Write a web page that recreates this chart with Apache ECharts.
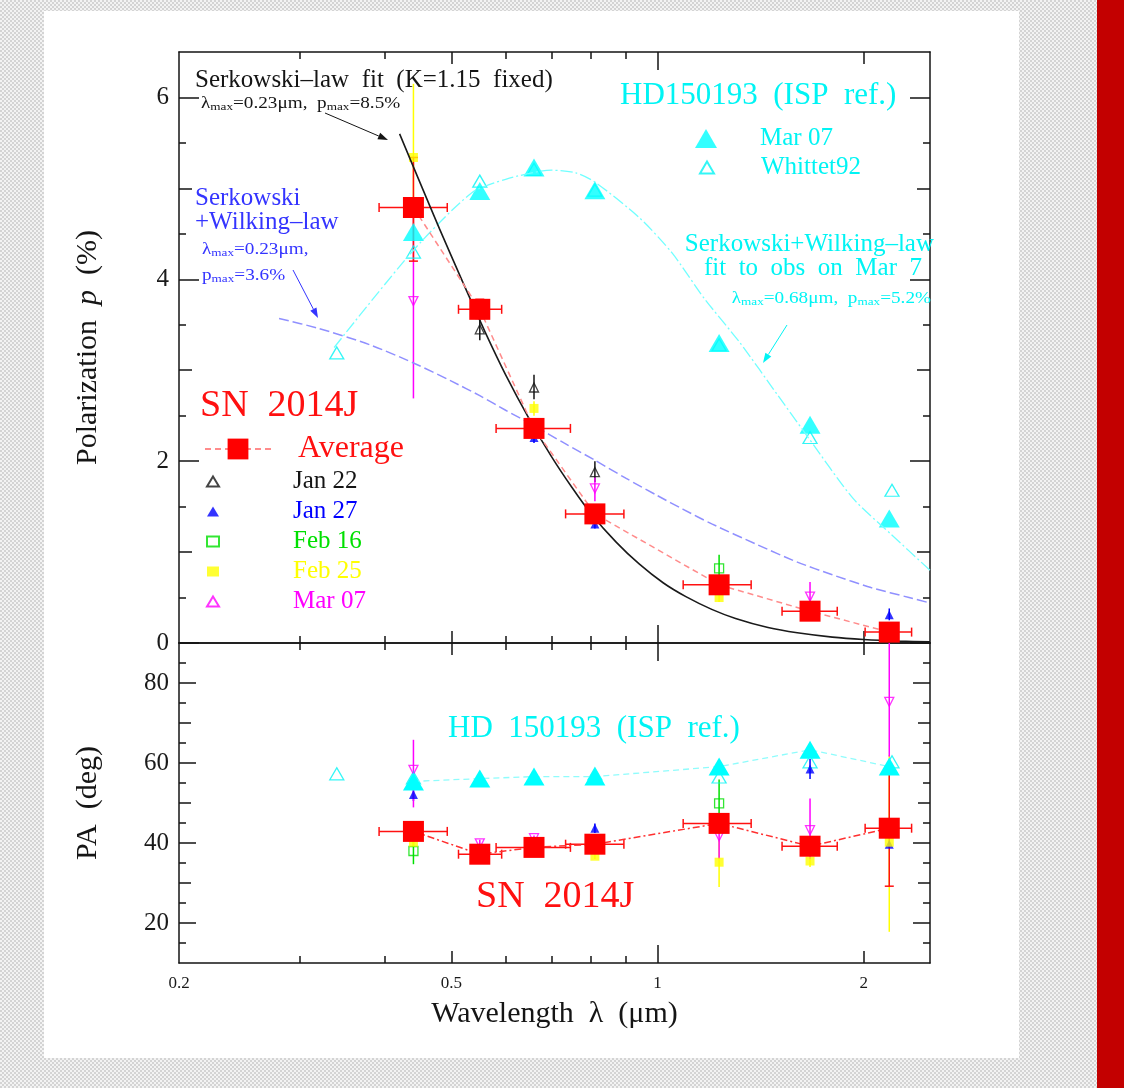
<!DOCTYPE html>
<html>
<head>
<meta charset="utf-8">
<title>SN 2014J polarization</title>
<script src="https://cdn.jsdelivr.net/npm/echarts@6/dist/echarts.min.js"></script>
<style>
html, body { margin: 0; padding: 0; }
body {
    width: 1124px; height: 1088px;
    background: repeating-conic-gradient(#d4d4d4 0 25%, #f3f3f3 0 50%) 0 0 / 4px 4px;
}
#chart { width: 1124px; height: 1088px; }
</style>
</head>
<body>
<div id="chart"></div>
<script>
// ---- data ----
// band centres (um) B V R I J H K and the band widths used as x error bars
var bandWave   = [0.44, 0.55, 0.66, 0.81, 1.23, 1.67, 2.18];
var bandWaveLo = [0.392, 0.512, 0.581, 0.734, 1.09, 1.52, 2.01];
var bandWaveHi = [0.493, 0.592, 0.746, 0.893, 1.37, 1.83, 2.35];

// SN 2014J, average of all epochs
var avgP    = [4.79, 3.67, 2.36, 1.42, 0.64, 0.35, 0.12];
var avgPLo  = [4.20, 3.57, 2.30, 1.36, 0.58, 0.30, 0.07];
var avgPHi  = [5.34, 3.78, 2.42, 1.48, 0.70, 0.40, 0.17];
var avgPA   = [42.9, 37.2, 38.9, 39.7, 44.9, 39.2, 43.7];
var avgPALo = [41.5, 36.0, 37.9, 38.7, 43.5, 38.0, 29.2];
var avgPAHi = [44.3, 38.4, 39.9, 40.7, 46.3, 40.4, 59.0];

// single epochs, polarization (%)
var jan22P   = [null, 3.45, 2.81, 1.88, null, null, null];
var jan22PLo = [null, 3.33, 2.68, 1.77, null, null, null];
var jan22PHi = [null, 3.57, 2.95, 2.00, null, null, null];
var jan27P   = [null, null, 2.26, 1.31, null, null, 0.31];
var jan27PLo = [null, null, 2.20, 1.26, null, null, 0.25];
var jan27PHi = [null, null, 2.32, 1.36, null, null, 0.38];
var feb16P   = [null, null, null, null, 0.82, null, null];
var feb16PLo = [null, null, null, null, 0.72, null, null];
var feb16PHi = [null, null, null, null, 0.97, null, null];
var feb25P   = [5.34, null, 2.58, null, 0.50, null, null];
var feb25PLo = [4.60, null, 2.50, null, 0.45, null, null];
var feb25PHi = [6.15, null, 2.66, null, 0.56, null, null];
var mar07P   = [3.76, null, null, 1.70, null, 0.51, null];
var mar07PLo = [2.69, null, null, 1.56, null, 0.38, null];
var mar07PHi = [4.85, null, null, 1.82, null, 0.67, null];

// single epochs, position angle (deg)
var jan22PA   = [null, null, null, null, null, null, null];
var jan22PALo = [null, null, null, null, null, null, null];
var jan22PAHi = [null, null, null, null, null, null, null];
var jan27PA   = [52.1, null, null, 43.7, null, 58.5, 39.7];
var jan27PALo = [50.5, null, null, 42.5, null, 56.0, 39.0];
var jan27PAHi = [53.7, null, null, 44.9, null, 61.0, 40.4];
var feb16PA   = [38.0, null, null, null, 49.9, null, null];
var feb16PALo = [34.7, null, null, null, 44.5, null, null];
var feb16PAHi = [41.0, null, null, null, 55.9, null, null];
var feb25PA   = [40.2, null, null, 36.7, 35.2, 35.5, 40.2];
var feb25PALo = [39.0, null, null, 36.0, 29.0, 34.0, 17.8];
var feb25PAHi = [41.4, null, null, 37.4, 41.0, 37.0, 62.0];
var mar07PA   = [58.3, 39.9, 41.2, null, 41.7, 43.2, 75.3];
var mar07PALo = [48.9, 39.0, 40.5, null, 36.0, 36.0, 61.6];
var mar07PAHi = [65.8, 40.8, 41.9, null, 45.0, 51.1, 95.0];

// HD 150193 (ISP reference star)
var hdP  = [4.52, 4.97, 5.23, 4.98, 3.30, 2.40, 1.37];
var hdPA = [55.4, 56.1, 56.6, 56.6, 59.1, 63.3, 59.1];
var whittetWave = [0.34, 0.44, 0.55, 0.66, 0.81, 1.23, 1.67, 2.20];
var whittetP    = [3.19, 4.30, 5.08, 5.21, 4.98, 3.28, 2.26, 1.68];
var whittetPA   = [57.3, 56.3, null, null, 57.3, 56.5, 60.3, 60.3];

// fitted curves, sampled along the drawn lines
var serkFitWave = [0.42, 0.45, 0.48, 0.52, 0.56, 0.6, 0.65, 0.7, 0.75, 0.8, 0.87, 0.94, 1.02, 1.1,
                   1.2, 1.3, 1.45, 1.6, 1.8, 2.0, 2.25, 2.5];
var serkFitP    = [5.60, 5.06, 4.56, 3.96, 3.42, 2.95, 2.46, 2.05, 1.71, 1.42, 1.11, 0.87, 0.66, 0.51,
                   0.37, 0.27, 0.17, 0.112, 0.065, 0.039, 0.021, 0.012];
var swFitWave = [0.28, 0.32, 0.38, 0.44, 0.5, 0.55, 0.6, 0.66, 0.73, 0.81, 0.9, 1.0, 1.09, 1.2,
                 1.4, 1.6, 1.8, 2.05, 2.33, 2.5];
var swFitP    = [3.57, 3.46, 3.28, 3.08, 2.88, 2.72, 2.56, 2.39, 2.20, 2.01, 1.81, 1.62, 1.47, 1.31,
                 1.08, 0.89, 0.75, 0.61, 0.50, 0.44];
var hdFitWave = [0.337, 0.44, 0.535, 0.6, 0.7, 0.76, 0.81, 0.94, 1.05, 1.17, 1.32, 1.5, 1.66, 1.93, 2.19, 2.5];
var hdFitP    = [3.25, 4.32, 4.95, 5.10, 5.20, 5.17, 5.07, 4.68, 4.29, 3.79, 3.30, 2.72, 2.26, 1.59, 1.20, 0.80];

// axis ticks and labels
var xTickLevels  = [[1], [0.5, 2], [0.3, 0.4, 0.6, 0.7, 0.8, 0.9]];
var xTickLabels  = [0.2, 0.5, 1, 2];
var pTickLevels  = [[0, 2, 4, 6], [1, 3, 5], [0.5, 1.5, 2.5, 3.5, 4.5, 5.5]];
var pTickLabels  = [0, 2, 4, 6];
var paTickLevels = [[20, 40, 60, 80], [30, 50, 70], [15, 25, 35, 45, 55, 65, 75, 85]];
var paTickLabels = [20, 40, 60, 80];

var epochNames = ['Jan 22', 'Jan 27', 'Feb 16', 'Feb 25', 'Mar 07'];

// ---- styles ----
var SERIF = '"Liberation Serif", "DejaVu Serif", serif';
var INK = '#151515';
var CYAN = '#00f4f4';
var RED = '#ff1010';
var BLUE = '#3434ff';
var epochColors  = ['#151515', '#0000ff', '#00e000', '#ffff00', '#ff00ff'];
var epochSymbols = ['triangle', 'triangle', 'rect', 'rect', 'triangle'];
var epochHollow  = [true, false, true, false, true];
var epochRotate  = [0, 0, 0, 0, 180];

var epochP   = [jan22P, jan27P, feb16P, feb25P, mar07P];
var epochPLo = [jan22PLo, jan27PLo, feb16PLo, feb25PLo, mar07PLo];
var epochPHi = [jan22PHi, jan27PHi, feb16PHi, feb25PHi, mar07PHi];
var epochPA   = [jan22PA, jan27PA, feb16PA, feb25PA, mar07PA];
var epochPALo = [jan22PALo, jan27PALo, feb16PALo, feb25PALo, mar07PALo];
var epochPAHi = [jan22PAHi, jan27PAHi, feb16PAHi, feb25PAHi, mar07PAHi];

// two panels, each built from three stacked grids so the ticks get three lengths
var panels = [
    {top: 52, height: 591, min: 0, max: 6.5, ticks: pTickLevels, lens: [20, 13, 7], labels: pTickLabels,
     name: 'Polarization  {i|p}  (%)'},
    {top: 643, height: 320, min: 10, max: 90, ticks: paTickLevels, lens: [17, 12, 7], labels: paTickLabels,
     name: 'PA  (deg)'}
];
var xTickLens = [18, 12, 7];

var grids = [], xAxes = [], yAxes = [];
panels.forEach(function (pn, p) {
    for (var lev = 0; lev < 3; lev++) {
        var g = grids.length;
        grids.push({left: 179, width: 751, top: pn.top, height: pn.height});
        ['bottom', 'top'].forEach(function (pos) {
            var labelled = lev === 0 && pos === 'bottom' && p === 1;
            xAxes.push({
                type: 'log', logBase: 10, gridIndex: g, position: pos, min: 0.2, max: 2.5,
                axisLine: {show: lev === 0, onZero: false, lineStyle: {color: INK, width: 1.5}},
                axisTick: {show: true, inside: true, length: xTickLens[lev], customValues: xTickLevels[lev],
                           lineStyle: {color: INK, width: 1.5}},
                axisLabel: {show: labelled, customValues: xTickLabels, margin: 12,
                            fontFamily: SERIF, fontSize: 17, color: '#1a1a1a',
                            formatter: function (v) { return String(Math.round(v * 10) / 10); }},
                splitLine: {show: false},
                name: labelled ? 'Wavelength  λ  (μm)' : '',
                nameLocation: 'middle', nameGap: 36,
                nameTextStyle: {fontFamily: SERIF, fontSize: 30, color: INK}
            });
        });
        ['left', 'right'].forEach(function (pos) {
            var labelled = lev === 0 && pos === 'left';
            yAxes.push({
                type: 'value', gridIndex: g, position: pos, min: pn.min, max: pn.max,
                axisLine: {show: lev === 0, onZero: false, lineStyle: {color: INK, width: 1.5}},
                axisTick: {show: true, inside: true, length: pn.lens[lev], customValues: pn.ticks[lev],
                           lineStyle: {color: INK, width: 1.5}},
                axisLabel: {show: labelled, customValues: pn.labels, margin: 10,
                            fontFamily: SERIF, fontSize: 25, color: '#1a1a1a'},
                splitLine: {show: false},
                name: labelled ? pn.name : '',
                nameLocation: 'middle', nameGap: 76, nameRotate: 90,
                nameTextStyle: {fontFamily: SERIF, fontSize: 30, color: INK,
                                rich: {i: {fontFamily: SERIF, fontSize: 30, fontStyle: 'italic', color: INK}}}
            });
        });
    }
});

var TOP = [0, 0];   // xAxisIndex, yAxisIndex for the polarization panel
var BOT = [6, 6];   // same for the PA panel

function pairs(xs, ys) {
    var out = [];
    xs.forEach(function (x, i) { if (ys[i] != null) out.push([x, ys[i]]); });
    return out;
}

function curve(name, axes, xs, ys, color, width, dash) {
    return {
        type: 'line', name: name, xAxisIndex: axes[0], yAxisIndex: axes[1],
        data: pairs(xs, ys), smooth: 0.25, symbol: 'none', silent: true,
        lineStyle: {color: color, width: width, type: dash || 'solid'}
    };
}

function markers(name, axes, xs, ys, symbol, size, color, hollow, rotate) {
    return {
        type: 'scatter', name: name, xAxisIndex: axes[0], yAxisIndex: axes[1],
        data: pairs(xs, ys), symbol: symbol, symbolSize: size, symbolRotate: rotate || 0, silent: true,
        itemStyle: hollow ? {color: 'rgba(255,255,255,0)', borderColor: color, borderWidth: 1.3}
                          : {color: color, borderWidth: 0}
    };
}

function vBars(axes, xs, lo, hi, color, cap) {
    var data = [];
    xs.forEach(function (x, i) { if (lo[i] != null) data.push([x, lo[i], hi[i]]); });
    return {
        type: 'custom', xAxisIndex: axes[0], yAxisIndex: axes[1], silent: true, clip: true,
        encode: {x: 0, y: [1, 2]}, data: data,
        renderItem: function (params, api) {
            var a = api.coord([api.value(0), api.value(1)]);
            var b = api.coord([api.value(0), api.value(2)]);
            var st = {stroke: color, lineWidth: 1.5};
            var kids = [{type: 'line', shape: {x1: a[0], y1: a[1], x2: b[0], y2: b[1]}, style: st}];
            if (cap) {
                kids.push({type: 'line', shape: {x1: a[0] - cap, y1: a[1], x2: a[0] + cap, y2: a[1]}, style: st});
                kids.push({type: 'line', shape: {x1: b[0] - cap, y1: b[1], x2: b[0] + cap, y2: b[1]}, style: st});
            }
            return {type: 'group', children: kids};
        }
    };
}

function hBars(axes, xlo, xhi, ys, color, cap) {
    var data = [];
    ys.forEach(function (y, i) { data.push([xlo[i], xhi[i], y]); });
    return {
        type: 'custom', xAxisIndex: axes[0], yAxisIndex: axes[1], silent: true, clip: true,
        encode: {x: [0, 1], y: 2}, data: data,
        renderItem: function (params, api) {
            var a = api.coord([api.value(0), api.value(2)]);
            var b = api.coord([api.value(1), api.value(2)]);
            var st = {stroke: color, lineWidth: 1.5};
            return {type: 'group', children: [
                {type: 'line', shape: {x1: a[0], y1: a[1], x2: b[0], y2: b[1]}, style: st},
                {type: 'line', shape: {x1: a[0], y1: a[1] - cap, x2: a[0], y2: a[1] + cap}, style: st},
                {type: 'line', shape: {x1: b[0], y1: b[1] - cap, x2: b[0], y2: b[1] + cap}, style: st}
            ]};
        }
    };
}

var series = [];
// polarization panel
series.push(curve('HD fit', TOP, hdFitWave, hdFitP, '#70ffff', 1.3, [12, 3, 2, 3]));
series.push(curve('SW fit', TOP, swFitWave, swFitP, '#9090ff', 1.5, [10, 4]));
series.push(curve('Serkowski fit', TOP, serkFitWave, serkFitP, '#1a1a1a', 1.6));
series.push(markers('Whittet92', TOP, whittetWave, whittetP, 'triangle', [14, 12], CYAN, true));
series.push(markers('HD Mar 07', TOP, bandWave, hdP, 'triangle', [21, 18], '#00ffff', false));
epochNames.forEach(function (n, k) {
    series.push(vBars(TOP, bandWave, epochPLo[k], epochPHi[k], epochColors[k], 0));
    series.push(markers(n, TOP, bandWave, epochP[k], epochSymbols[k], 9, epochColors[k], epochHollow[k], epochRotate[k]));
});
series.push(hBars(TOP, bandWaveLo, bandWaveHi, avgP, RED, 4.5));
series.push(vBars(TOP, bandWave, avgPLo, avgPHi, RED, 4.5));
series.push({
    type: 'line', name: 'Average', xAxisIndex: 0, yAxisIndex: 0, data: pairs(bandWave, avgP),
    symbol: 'rect', symbolSize: 21, showSymbol: true, silent: true,
    lineStyle: {color: '#ff8c8c', width: 1.5, type: [6, 4]},
    itemStyle: {color: '#ff0000'}
});

// PA panel
series.push({
    type: 'line', name: 'HD Mar 07 PA', xAxisIndex: 6, yAxisIndex: 6, data: pairs(bandWave, hdPA),
    symbol: 'triangle', symbolSize: [21, 18], showSymbol: true, silent: true,
    lineStyle: {color: '#8ffcfc', width: 1.3, type: [6, 4]},
    itemStyle: {color: '#00ffff'}
});
series.push(markers('Whittet92 PA', BOT, whittetWave, whittetPA, 'triangle', [14, 12], CYAN, true));
epochNames.forEach(function (n, k) {
    series.push(vBars(BOT, bandWave, epochPALo[k], epochPAHi[k], epochColors[k], 0));
    series.push(markers(n + ' PA', BOT, bandWave, epochPA[k], epochSymbols[k], 9, epochColors[k], epochHollow[k], epochRotate[k]));
});
series.push(hBars(BOT, bandWaveLo, bandWaveHi, avgPA, RED, 4.5));
series.push(vBars(BOT, bandWave, avgPALo, avgPAHi, RED, 4.5));
series.push({
    type: 'line', name: 'Average PA', xAxisIndex: 6, yAxisIndex: 6, data: pairs(bandWave, avgPA),
    symbol: 'rect', symbolSize: 21, showSymbol: true, silent: true,
    lineStyle: {color: '#ff3030', width: 1.5, type: [7, 3, 2, 3]},
    itemStyle: {color: '#ff0000'}
});

// ---- annotations ----
function text(x, y, str, size, color, align) {
    return {type: 'text', x: x, y: y, z: 50, silent: true,
            style: {text: str, fill: color, font: size + 'px ' + SERIF, align: align || 'left', verticalAlign: 'middle'}};
}
function subText(x, y, str, color, align) {
    return {type: 'text', x: x, y: y, z: 50, silent: true, scaleX: 1.2,
            style: {text: str, align: align || 'left', verticalAlign: 'middle',
                    rich: {a: {fill: color, fontFamily: SERIF, fontSize: 16, lineHeight: 18},
                           b: {fill: color, fontFamily: SERIF, fontSize: 11, lineHeight: 10, verticalAlign: 'bottom'}}}};
}
function arrow(x1, y1, x2, y2, color) {
    var dx = x2 - x1, dy = y2 - y1, len = Math.sqrt(dx * dx + dy * dy);
    var ux = dx / len, uy = dy / len, bx = x2 - ux * 10, by = y2 - uy * 10;
    return [
        {type: 'line', z: 50, silent: true, shape: {x1: x1, y1: y1, x2: bx, y2: by}, style: {stroke: color, lineWidth: 1}},
        {type: 'polygon', z: 50, silent: true,
         shape: {points: [[x2, y2], [bx - uy * 3.5, by + ux * 3.5], [bx + uy * 3.5, by - ux * 3.5]]},
         style: {fill: color}}
    ];
}

var graphics = [
    {type: 'rect', z: -10, silent: true, shape: {x: 44, y: 11, width: 975, height: 1047}, style: {fill: '#ffffff'}},
    {type: 'rect', z: -10, silent: true, shape: {x: 1097, y: 0, width: 27, height: 1088}, style: {fill: '#c30000'}},
    text(195, 80, 'Serkowski–law  fit  (K=1.15  fixed)', 25, INK),
    subText(201, 104, '{a|λ}{b|max}{a|=0.23μm,  p}{b|max}{a|=8.5%}', INK),
    text(620, 96, 'HD150193  (ISP  ref.)', 31, CYAN),
    text(934, 244, 'Serkowski+Wilking–law', 25, CYAN, 'right'),
    text(922, 268, 'fit  to  obs  on  Mar  7', 25, CYAN, 'right'),
    subText(931, 299, '{a|λ}{b|max}{a|=0.68μm,  p}{b|max}{a|=5.2%}', CYAN, 'right'),
    text(195, 198, 'Serkowski', 25, BLUE),
    text(195, 222, '+Wilking–law', 25, BLUE),
    subText(202, 250, '{a|λ}{b|max}{a|=0.23μm,}', BLUE),
    subText(202, 276, '{a|p}{b|max}{a|=3.6%}', BLUE),
    text(200, 406, 'SN  2014J', 38, RED),
    text(448, 729, 'HD  150193  (ISP  ref.)', 31, CYAN),
    text(476, 897, 'SN  2014J', 38, RED)
].concat(arrow(325, 113, 388, 140, INK), arrow(293, 270, 318, 318, BLUE), arrow(787, 325, 763, 363, CYAN));

var option = {
    animation: false,
    backgroundColor: 'transparent',
    grid: grids,
    xAxis: xAxes,
    yAxis: yAxes,
    legend: [
        {data: [{name: 'Average', textStyle: {color: RED}}], left: 204, top: 433, padding: 0,
         itemWidth: 66, itemHeight: 26, selectedMode: false,
         textStyle: {fontFamily: SERIF, fontSize: 32, padding: [0, 0, 0, 22]}},
        {data: epochNames.map(function (n, k) { return {name: n, textStyle: {color: epochColors[k]}}; }),
         orient: 'vertical', left: 206, top: 469, padding: 0, itemWidth: 12, itemHeight: 10, itemGap: 5,
         selectedMode: false, textStyle: {fontFamily: SERIF, fontSize: 25, lineHeight: 24, padding: [0, 0, 0, 69]}},
        {data: [{name: 'HD Mar 07', textStyle: {color: CYAN}}], left: 695, top: 126, padding: 0,
         itemWidth: 22, itemHeight: 19, selectedMode: false,
         formatter: function (n) { return n.replace('HD ', ''); },
         textStyle: {fontFamily: SERIF, fontSize: 25, padding: [0, 0, 0, 38]}},
        {data: [{name: 'Whittet92', textStyle: {color: CYAN}}], left: 699, top: 155, padding: 0,
         itemWidth: 14, itemHeight: 12, selectedMode: false,
         textStyle: {fontFamily: SERIF, fontSize: 25, padding: [0, 0, 0, 42]}}
    ],
    graphic: {elements: graphics},
    series: series
};

var chart = echarts.init(document.getElementById('chart'));
chart.setOption(option);
</script>
</body>
</html>
